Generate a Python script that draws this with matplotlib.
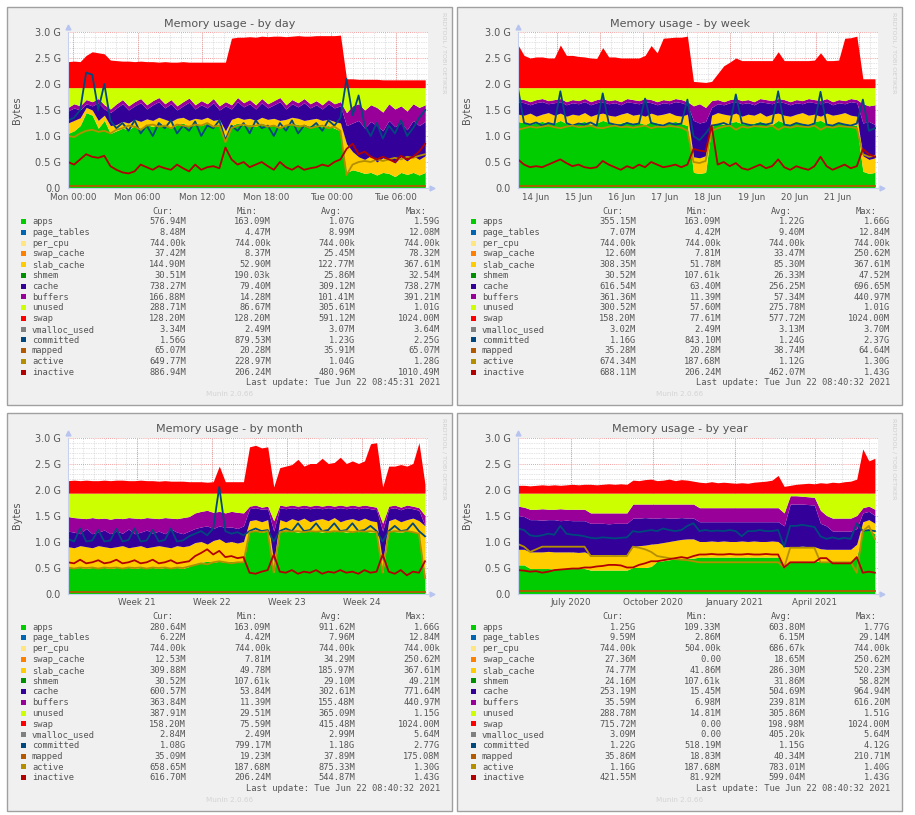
import numpy as np
import matplotlib
matplotlib.use("Agg")
import matplotlib.pyplot as plt
from matplotlib.patches import Rectangle

W, H = 915, 815
fig = plt.figure(figsize=(W / 100, H / 100), dpi=100)
fig.patch.set_facecolor("white")
bg = fig.add_axes([0, 0, 1, 1])
bg.set_xlim(0, W)
bg.set_ylim(H, 0)
bg.axis("off")

TXT = "#555555"
RAM_TOTAL = 1.93  # G, top of the "unused" band

# ---------------- data (values in G) ----------------
day_swap_top = [2.43, 2.44, 2.43, 2.55, 2.62, 2.60, 2.58, 2.46, 2.45, 2.44,
                2.44, 2.43, 2.44, 2.43, 2.43, 2.42, 2.43, 2.42, 2.42, 2.43,
                2.42, 2.42, 2.42, 2.42, 2.42, 2.42, 2.42, 2.88, 2.90, 2.90,
                2.91, 2.90, 2.92, 2.91, 2.92, 2.92, 2.91, 2.92, 2.93, 2.92,
                2.92, 2.93, 2.93, 2.93, 2.93, 2.94, 2.10, 2.10, 2.09, 2.09,
                2.09, 2.09, 2.08, 2.08, 2.08, 2.08, 2.08, 2.08, 2.08, 2.08]
day_buffers_top = [1.55, 1.62, 1.58, 1.70, 1.66, 1.72, 1.60, 1.52, 1.62, 1.70,
                   1.58, 1.66, 1.72, 1.60, 1.68, 1.74, 1.62, 1.70, 1.58, 1.66,
                   1.73, 1.60, 1.68, 1.62, 1.72, 1.58, 1.66, 1.60, 1.74, 1.64,
                   1.70, 1.60, 1.72, 1.62, 1.68, 1.74, 1.60, 1.70, 1.64, 1.72,
                   1.62, 1.68, 1.60, 1.70, 1.62, 1.66, 1.45, 1.58, 1.62, 1.50,
                   1.60, 1.55, 1.46, 1.62, 1.52, 1.58, 1.48, 1.62, 1.55, 1.60]
day_cache_top = [1.48, 1.54, 1.50, 1.62, 1.58, 1.64, 1.52, 1.45, 1.54, 1.62,
                 1.50, 1.58, 1.64, 1.52, 1.60, 1.66, 1.54, 1.62, 1.50, 1.58,
                 1.65, 1.52, 1.60, 1.54, 1.64, 1.50, 1.58, 1.52, 1.66, 1.56,
                 1.62, 1.52, 1.64, 1.54, 1.60, 1.66, 1.52, 1.62, 1.56, 1.64,
                 1.54, 1.60, 1.52, 1.62, 1.54, 1.58, 1.20, 1.25, 1.30, 1.15,
                 1.28, 1.20, 1.10, 1.30, 1.18, 1.25, 1.12, 1.30, 1.20, 1.28]
day_slab_top = [1.25, 1.30, 1.35, 1.55, 1.50, 1.30, 1.40, 1.20, 1.22, 1.28,
                1.25, 1.32, 1.28, 1.33, 1.30, 1.36, 1.32, 1.28, 1.34, 1.36,
                1.30, 1.34, 1.32, 1.36, 1.30, 1.32, 1.10, 1.32, 1.36, 1.32,
                1.34, 1.30, 1.36, 1.32, 1.34, 1.30, 1.32, 1.36, 1.34, 1.30,
                1.32, 1.34, 1.30, 1.32, 1.28, 1.25, 0.85, 0.70, 0.60, 0.55,
                0.62, 0.50, 0.58, 0.55, 0.48, 0.60, 0.52, 0.62, 0.55, 0.62]
day_apps_top = [1.05, 1.10, 1.20, 1.45, 1.40, 1.15, 1.30, 1.05, 1.10, 1.15,
                1.12, 1.20, 1.15, 1.22, 1.18, 1.25, 1.20, 1.15, 1.22, 1.25,
                1.18, 1.22, 1.20, 1.25, 1.18, 1.20, 0.95, 1.20, 1.25, 1.20,
                1.22, 1.18, 1.25, 1.20, 1.22, 1.18, 1.20, 1.25, 1.22, 1.18,
                1.20, 1.22, 1.18, 1.20, 1.15, 1.10, 0.30, 0.35, 0.32, 0.28,
                0.30, 0.25, 0.30, 0.28, 0.22, 0.30, 0.26, 0.30, 0.25, 0.30]
day_committed = [1.30, 1.35, 1.50, 2.22, 2.18, 1.50, 2.00, 1.30, 1.15, 1.25,
                 1.10, 1.30, 1.05, 1.20, 1.00, 1.25, 1.15, 1.30, 1.05, 1.20,
                 1.10, 1.28, 1.00, 1.20, 1.15, 1.30, 0.92, 1.20, 1.10, 1.25,
                 1.05, 1.30, 1.15, 1.20, 1.00, 1.25, 1.10, 1.30, 1.05, 1.20,
                 1.15, 1.25, 1.10, 1.30, 1.20, 1.35, 2.10, 1.40, 1.78, 1.20,
                 1.00, 1.25, 0.95, 1.20, 1.05, 1.30, 1.00, 1.15, 1.35, 1.50]
day_active = [1.00, 0.98, 1.05, 1.10, 1.12, 1.08, 1.10, 1.05, 1.12, 1.15,
              1.20, 1.18, 1.12, 1.20, 1.22, 1.18, 1.20, 1.15, 1.22, 1.20,
              1.18, 1.22, 1.20, 1.25, 1.18, 1.20, 0.88, 1.15, 1.20, 1.22,
              1.18, 1.20, 1.22, 1.18, 1.20, 1.15, 1.20, 1.22, 1.18, 1.20,
              1.15, 1.18, 1.20, 1.15, 1.18, 1.10, 0.25, 0.45, 0.50, 0.52,
              0.50, 0.55, 0.52, 0.55, 0.58, 0.55, 0.60, 0.58, 0.62, 0.65]
day_inactive = [0.50, 0.45, 0.55, 0.65, 0.60, 0.58, 0.62, 0.42, 0.35, 0.30,
                0.28, 0.32, 0.45, 0.40, 0.35, 0.42, 0.38, 0.35, 0.45, 0.38,
                0.32, 0.45, 0.35, 0.40, 0.42, 0.38, 0.78, 0.55, 0.45, 0.50,
                0.40, 0.45, 0.50, 0.42, 0.35, 0.50, 0.40, 0.35, 0.42, 0.35,
                0.38, 0.40, 0.45, 0.42, 0.50, 0.55, 0.75, 0.85, 0.65, 0.70,
                0.60, 0.55, 0.60, 0.55, 0.50, 0.62, 0.55, 0.60, 0.70, 0.85]

week_swap_top = [2.75, 2.55, 2.50, 2.52, 2.52, 2.50, 2.50, 2.75, 2.55, 2.55,
                 2.53, 2.52, 2.50, 2.49, 2.70, 2.52, 2.52, 2.50, 2.50, 2.50,
                 2.50, 2.55, 2.74, 2.60, 2.88, 2.89, 2.90, 2.90, 2.92, 2.05,
                 2.04, 2.03, 2.05, 2.20, 2.35, 2.42, 2.50, 2.45, 2.45, 2.45,
                 2.45, 2.45, 2.45, 2.62, 2.45, 2.45, 2.45, 2.45, 2.45, 2.46,
                 2.60, 2.45, 2.45, 2.46, 2.88, 2.89, 2.92, 2.10, 2.10, 2.10]
week_buffers_top = [1.72, 1.70, 1.66, 1.70, 1.72, 1.68, 1.70, 1.72, 1.66, 1.70,
                    1.68, 1.72, 1.66, 1.70, 1.72, 1.68, 1.70, 1.66, 1.72, 1.70,
                    1.68, 1.72, 1.70, 1.66, 1.70, 1.68, 1.72, 1.70, 1.66, 1.58,
                    1.62, 1.55, 1.68, 1.70, 1.66, 1.70, 1.72, 1.68, 1.70, 1.66,
                    1.72, 1.70, 1.68, 1.72, 1.70, 1.66, 1.70, 1.68, 1.72, 1.70,
                    1.68, 1.72, 1.66, 1.70, 1.68, 1.72, 1.70, 1.62, 1.58, 1.60]
week_cache_top = [1.66, 1.64, 1.60, 1.64, 1.66, 1.62, 1.64, 1.66, 1.60, 1.64,
                  1.62, 1.66, 1.60, 1.64, 1.66, 1.62, 1.64, 1.60, 1.66, 1.64,
                  1.62, 1.66, 1.64, 1.60, 1.64, 1.62, 1.66, 1.64, 1.60, 1.30,
                  1.25, 1.28, 1.55, 1.62, 1.60, 1.64, 1.66, 1.62, 1.64, 1.60,
                  1.66, 1.64, 1.62, 1.66, 1.64, 1.60, 1.64, 1.62, 1.66, 1.64,
                  1.62, 1.66, 1.60, 1.64, 1.62, 1.66, 1.64, 1.25, 1.28, 1.22]
week_slab_top = [1.42, 1.40, 1.44, 1.38, 1.42, 1.45, 1.40, 1.44, 1.38, 1.42,
                 1.40, 1.45, 1.38, 1.42, 1.44, 1.40, 1.38, 1.42, 1.45, 1.40,
                 1.42, 1.38, 1.44, 1.40, 1.42, 1.45, 1.40, 1.38, 1.42, 0.60,
                 0.58, 0.62, 1.40, 1.45, 1.42, 1.40, 1.44, 1.38, 1.42, 1.40,
                 1.45, 1.38, 1.42, 1.44, 1.40, 1.38, 1.42, 1.45, 1.40, 1.42,
                 1.38, 1.44, 1.40, 1.42, 1.45, 1.40, 1.38, 0.62, 0.55, 0.58]
week_apps_top = [1.28, 1.25, 1.22, 1.26, 1.28, 1.24, 1.25, 1.30, 1.24, 1.22,
                 1.26, 1.28, 1.22, 1.25, 1.30, 1.26, 1.22, 1.25, 1.28, 1.24,
                 1.26, 1.22, 1.28, 1.25, 1.22, 1.26, 1.28, 1.24, 1.20, 0.30,
                 0.28, 0.30, 1.18, 1.25, 1.22, 1.26, 1.28, 1.24, 1.22, 1.25,
                 1.28, 1.24, 1.22, 1.30, 1.25, 1.22, 1.26, 1.24, 1.22, 1.28,
                 1.30, 1.24, 1.22, 1.26, 1.24, 1.22, 1.20, 0.32, 0.28, 0.30]
week_committed = [1.92, 1.25, 1.22, 1.26, 1.20, 1.25, 1.22, 1.86, 1.25, 1.20,
                  1.24, 1.22, 1.26, 1.20, 1.82, 1.25, 1.22, 1.20, 1.25, 1.22,
                  1.24, 1.72, 1.25, 1.22, 1.20, 1.25, 1.22, 1.24, 1.70, 1.00,
                  0.92, 1.05, 1.20, 1.22, 1.25, 1.20, 1.80, 1.25, 1.22, 1.20,
                  1.24, 1.22, 1.25, 1.86, 1.22, 1.20, 1.25, 1.22, 1.20, 1.24,
                  1.85, 1.22, 1.20, 1.25, 1.22, 1.20, 1.24, 1.70, 1.10, 1.15]
week_active = [1.12, 1.15, 1.18, 1.16, 1.18, 1.20, 1.17, 1.15, 1.18, 1.20,
               1.17, 1.18, 1.20, 1.16, 1.15, 1.18, 1.20, 1.17, 1.18, 1.16,
               1.18, 1.20, 1.15, 1.18, 1.17, 1.19, 1.18, 1.16, 1.10, 0.50,
               0.48, 0.52, 1.10, 1.15, 1.18, 1.20, 1.12, 1.18, 1.16, 1.19,
               1.18, 1.17, 1.20, 1.12, 1.18, 1.16, 1.19, 1.18, 1.17, 1.20,
               1.12, 1.18, 1.16, 1.19, 1.18, 1.17, 1.15, 0.65, 0.60, 0.62]
week_inactive = [0.55, 0.45, 0.40, 0.42, 0.40, 0.45, 0.50, 0.55, 0.48, 0.42,
                 0.45, 0.40, 0.38, 0.40, 0.52, 0.45, 0.40, 0.35, 0.42, 0.38,
                 0.45, 0.40, 0.50, 0.45, 0.40, 0.42, 0.45, 0.40, 0.45, 0.75,
                 0.72, 0.70, 1.20, 0.45, 0.50, 0.42, 0.48, 0.38, 0.35, 0.40,
                 0.45, 0.38, 0.42, 0.55, 0.40, 0.35, 0.42, 0.38, 0.35, 0.42,
                 0.60, 0.42, 0.35, 0.40, 0.45, 0.38, 0.42, 0.75, 0.65, 0.60]

month_swap_top = [2.17, 2.18, 2.17, 2.18, 2.17, 2.17, 2.18, 2.17, 2.18, 2.18,
                  2.17, 2.17, 2.18, 2.17, 2.17, 2.16, 2.17, 2.16, 2.16, 2.16,
                  2.15, 2.15, 2.15, 2.14, 2.15, 2.45, 2.15, 2.15, 2.15, 2.15,
                  2.82, 2.85, 2.80, 2.82, 2.05, 2.42, 2.45, 2.48, 2.58, 2.45,
                  2.50, 2.50, 2.60, 2.50, 2.52, 2.62, 2.50, 2.55, 2.50, 2.55,
                  2.88, 2.90, 2.05, 2.45, 2.45, 2.48, 2.45, 2.50, 2.90, 2.10]
month_buffers_top = [1.48, 1.46, 1.45, 1.44, 1.46, 1.44, 1.45, 1.43, 1.45, 1.44,
                     1.46, 1.45, 1.44, 1.46, 1.45, 1.44, 1.46, 1.45, 1.44, 1.46,
                     1.48, 1.55, 1.58, 1.60, 1.56, 1.58, 1.55, 1.58, 1.56, 1.55,
                     1.68, 1.70, 1.66, 1.68, 1.40, 1.70, 1.68, 1.70, 1.68, 1.70,
                     1.68, 1.70, 1.68, 1.70, 1.68, 1.70, 1.68, 1.70, 1.68, 1.70,
                     1.68, 1.66, 1.35, 1.68, 1.70, 1.66, 1.70, 1.68, 1.65, 1.50]
month_cache_top = [1.20, 1.18, 1.15, 1.25, 1.15, 1.18, 1.22, 1.15, 1.20, 1.16,
                   1.24, 1.15, 1.18, 1.22, 1.16, 1.20, 1.15, 1.24, 1.18, 1.15,
                   1.20, 1.25, 1.28, 1.30, 1.25, 1.30, 1.27, 1.28, 1.25, 1.30,
                   1.63, 1.65, 1.62, 1.63, 1.20, 1.65, 1.63, 1.65, 1.63, 1.65,
                   1.63, 1.65, 1.63, 1.65, 1.63, 1.65, 1.63, 1.65, 1.63, 1.65,
                   1.63, 1.61, 1.20, 1.63, 1.65, 1.61, 1.65, 1.63, 1.60, 1.30]
month_slab_top = [0.90, 0.88, 0.92, 0.90, 0.88, 0.92, 0.90, 0.88, 0.90, 0.92,
                  0.88, 0.90, 0.92, 0.88, 0.90, 0.92, 0.90, 0.88, 0.92, 0.90,
                  0.92, 0.98, 1.00, 0.95, 1.02, 1.05, 0.98, 1.00, 0.97, 1.00,
                  1.40, 1.42, 1.38, 1.42, 0.60, 1.42, 1.38, 1.44, 1.40, 1.45,
                  1.38, 1.42, 1.44, 1.40, 1.46, 1.38, 1.42, 1.44, 1.40, 1.45,
                  1.40, 1.38, 0.60, 1.40, 1.44, 1.38, 1.42, 1.45, 1.40, 1.30]
month_apps_top = [0.50, 0.49, 0.50, 0.48, 0.50, 0.49, 0.50, 0.48, 0.50, 0.49,
                  0.50, 0.48, 0.50, 0.49, 0.50, 0.48, 0.50, 0.49, 0.50, 0.48,
                  0.52, 0.58, 0.60, 0.62, 0.60, 0.62, 0.60, 0.62, 0.60, 0.61,
                  1.20, 1.20, 1.18, 1.20, 0.40, 1.20, 1.19, 1.20, 1.18, 1.20,
                  1.19, 1.20, 1.18, 1.20, 1.19, 1.20, 1.18, 1.20, 1.19, 1.20,
                  1.18, 1.18, 0.40, 1.20, 1.19, 1.18, 1.20, 1.20, 1.15, 0.35]
month_committed = [1.05, 1.00, 1.25, 1.00, 1.02, 1.22, 1.00, 1.02, 1.24, 1.00,
                   1.03, 1.25, 1.00, 1.02, 1.22, 1.00, 1.03, 1.25, 1.00, 1.02,
                   1.10, 1.15, 1.20, 1.12, 1.25, 2.05, 1.20, 1.15, 1.18, 1.12,
                   1.20, 1.25, 1.20, 1.22, 1.00, 1.20, 1.25, 1.20, 1.35, 1.20,
                   1.22, 1.35, 1.20, 1.22, 1.35, 1.20, 1.22, 1.35, 1.20, 1.22,
                   1.30, 1.20, 1.00, 1.20, 1.30, 1.20, 1.22, 1.35, 1.20, 1.10]
month_active = [0.50, 0.48, 0.50, 0.49, 0.50, 0.48, 0.50, 0.49, 0.50, 0.48,
                0.50, 0.49, 0.50, 0.48, 0.50, 0.49, 0.50, 0.48, 0.50, 0.49,
                0.52, 0.55, 0.58, 0.56, 0.60, 0.62, 0.60, 0.58, 0.60, 0.60,
                1.18, 1.20, 1.18, 1.20, 0.40, 1.18, 1.20, 1.19, 1.20, 1.18,
                1.20, 1.19, 1.20, 1.18, 1.20, 1.19, 1.20, 1.18, 1.20, 1.19,
                1.20, 1.18, 0.40, 1.18, 1.20, 1.19, 1.20, 1.18, 1.15, 0.30]
month_inactive = [0.60, 0.58, 0.65, 0.58, 0.60, 0.64, 0.58, 0.60, 0.65, 0.58,
                  0.60, 0.64, 0.58, 0.60, 0.65, 0.58, 0.60, 0.64, 0.58, 0.60,
                  0.62, 0.72, 0.78, 0.85, 0.75, 0.82, 0.70, 0.72, 0.68, 0.70,
                  0.40, 0.38, 0.42, 0.45, 0.75, 0.42, 0.40, 0.45, 0.38, 0.42,
                  0.40, 0.45, 0.38, 0.42, 0.40, 0.45, 0.40, 0.42, 0.38, 0.45,
                  0.40, 0.42, 0.75, 0.42, 0.38, 0.45, 0.35, 0.42, 0.40, 0.62]

year_swap_top = [2.08, 2.08, 2.07, 2.08, 2.09, 2.08, 2.09, 2.08, 2.09, 2.10,
                 2.09, 2.10, 2.10, 2.09, 2.10, 2.11, 2.10, 2.11, 2.10, 2.18,
                 2.17, 2.19, 2.20, 2.17, 2.18, 2.20, 2.17, 2.19, 2.18, 2.16,
                 2.14, 2.13, 2.15, 2.13, 2.14, 2.13, 2.12, 2.13, 2.12, 2.14,
                 2.15, 2.16, 2.18, 2.27, 2.06, 2.08, 2.10, 2.11, 2.12, 2.11,
                 2.13, 2.12, 2.14, 2.13, 2.15, 2.16, 2.20, 2.78, 2.55, 2.60]
year_buffers_top = [1.68, 1.66, 1.62, 1.62, 1.63, 1.62, 1.62, 1.63, 1.62, 1.62,
                    1.62, 1.62, 1.55, 1.55, 1.55, 1.55, 1.55, 1.55, 1.55, 1.72,
                    1.72, 1.72, 1.72, 1.72, 1.72, 1.72, 1.72, 1.72, 1.72, 1.72,
                    1.65, 1.65, 1.65, 1.65, 1.65, 1.65, 1.65, 1.65, 1.65, 1.65,
                    1.65, 1.65, 1.65, 1.65, 1.55, 1.88, 1.88, 1.87, 1.86, 1.85,
                    1.60, 1.50, 1.45, 1.45, 1.45, 1.45, 1.50, 1.65, 1.68, 1.62]
year_cache_top = [1.50, 1.48, 1.42, 1.42, 1.41, 1.42, 1.42, 1.40, 1.41, 1.40,
                  1.40, 1.40, 1.35, 1.35, 1.35, 1.34, 1.35, 1.35, 1.35, 1.45,
                  1.45, 1.46, 1.45, 1.45, 1.46, 1.45, 1.45, 1.46, 1.45, 1.45,
                  1.38, 1.38, 1.38, 1.38, 1.38, 1.38, 1.38, 1.38, 1.38, 1.38,
                  1.38, 1.38, 1.38, 1.38, 1.30, 1.72, 1.72, 1.72, 1.71, 1.70,
                  1.35, 1.30, 1.20, 1.20, 1.20, 1.20, 1.25, 1.55, 1.58, 1.50]
year_slab_top = [0.85, 0.85, 0.80, 0.80, 0.80, 0.81, 0.80, 0.80, 0.80, 0.80,
                 0.79, 0.80, 0.75, 0.75, 0.75, 0.75, 0.74, 0.75, 0.75, 0.90,
                 0.92, 0.93, 0.95, 0.96, 0.98, 1.00, 1.02, 1.04, 1.05, 1.05,
                 1.00, 1.00, 1.01, 1.00, 1.01, 1.00, 1.00, 1.01, 1.00, 1.01,
                 1.00, 1.00, 1.01, 1.00, 0.90, 0.90, 0.90, 0.91, 0.90, 0.90,
                 0.86, 0.85, 0.85, 0.85, 0.85, 0.85, 0.95, 1.38, 1.42, 1.35]
year_apps_top = [0.55, 0.55, 0.48, 0.48, 0.48, 0.48, 0.47, 0.48, 0.48, 0.48,
                 0.48, 0.48, 0.45, 0.45, 0.45, 0.45, 0.45, 0.45, 0.45, 0.50,
                 0.50, 0.50, 0.52, 0.62, 0.63, 0.65, 0.66, 0.67, 0.68, 0.68,
                 0.70, 0.70, 0.70, 0.70, 0.70, 0.70, 0.70, 0.70, 0.70, 0.70,
                 0.70, 0.70, 0.70, 0.70, 0.50, 0.62, 0.62, 0.62, 0.62, 0.62,
                 0.62, 0.62, 0.62, 0.62, 0.62, 0.62, 0.70, 1.20, 1.22, 1.15]
year_committed = [1.25, 1.22, 1.12, 1.10, 1.12, 1.15, 1.13, 1.30, 1.15, 1.13,
                  1.12, 1.10, 1.07, 1.06, 1.08, 1.07, 1.06, 1.07, 1.08, 1.20,
                  1.18, 1.20, 1.22, 1.20, 1.25, 1.22, 1.20, 1.22, 1.30, 1.35,
                  1.20, 1.22, 1.20, 1.21, 1.20, 1.22, 1.20, 1.10, 1.20, 1.20,
                  1.22, 1.20, 1.20, 1.22, 0.90, 1.30, 1.30, 1.32, 1.30, 1.28,
                  1.10, 1.05, 1.08, 1.05, 1.07, 1.05, 1.35, 1.20, 1.22, 1.20]
year_active = [0.95, 0.90, 0.80, 0.85, 0.90, 0.90, 0.90, 0.90, 0.90, 0.90,
               0.90, 0.90, 0.72, 0.72, 0.72, 0.72, 0.72, 0.72, 0.72, 0.90,
               0.88, 0.85, 0.80, 0.72, 0.70, 0.68, 0.66, 0.65, 0.64, 0.62,
               0.60, 0.60, 0.60, 0.60, 0.60, 0.60, 0.60, 0.60, 0.60, 0.60,
               0.60, 0.60, 0.60, 0.60, 0.50, 0.88, 0.88, 0.88, 0.88, 0.88,
               0.60, 0.60, 0.60, 0.60, 0.60, 0.60, 0.40, 1.20, 1.30, 1.05]
year_inactive = [0.45, 0.44, 0.42, 0.43, 0.40, 0.42, 0.45, 0.46, 0.47, 0.48,
                 0.48, 0.50, 0.50, 0.52, 0.53, 0.55, 0.55, 0.54, 0.50, 0.50,
                 0.55, 0.58, 0.62, 0.62, 0.64, 0.66, 0.68, 0.70, 0.68, 0.72,
                 0.75, 0.75, 0.76, 0.75, 0.75, 0.76, 0.75, 0.75, 0.76, 0.75,
                 0.75, 0.76, 0.75, 0.75, 0.50, 0.60, 0.60, 0.60, 0.60, 0.60,
                 0.68, 0.68, 0.58, 0.58, 0.58, 0.58, 0.70, 0.40, 0.42, 0.40]

mapped_level = {"day": 0.036, "week": 0.039, "month": 0.038, "year": 0.040}

# ---------------- legend tables ----------------
legend_names = ["apps", "page_tables", "per_cpu", "swap_cache", "slab_cache", "shmem",
                "cache", "buffers", "unused", "swap", "vmalloc_used", "committed",
                "mapped", "active", "inactive"]
legend_colors = ["#00CC00", "#0066B3", "#FFE680", "#FF8000", "#FFCC00", "#008F00",
                 "#330099", "#990099", "#CCFF00", "#FF0000", "#808080", "#00487D",
                 "#B35A00", "#B38F00", "#B30000"]

day_cur = ["576.94M", "8.48M", "744.00k", "37.42M", "144.90M", "30.51M", "738.27M", "166.88M",
           "288.71M", "128.20M", "3.34M", "1.56G", "65.07M", "649.77M", "886.94M"]
day_min = ["163.09M", "4.47M", "744.00k", "8.37M", "52.90M", "190.03k", "79.40M", "14.28M",
           "86.67M", "128.20M", "2.49M", "879.53M", "20.28M", "228.97M", "206.24M"]
day_avg = ["1.07G", "8.99M", "744.00k", "25.45M", "122.77M", "25.86M", "309.12M", "101.41M",
           "305.61M", "591.12M", "3.07M", "1.23G", "35.91M", "1.04G", "480.96M"]
day_max = ["1.59G", "12.08M", "744.00k", "78.32M", "367.61M", "32.54M", "738.27M", "391.21M",
           "1.01G", "1024.00M", "3.64M", "2.25G", "65.07M", "1.28G", "1010.49M"]

week_cur = ["355.15M", "7.07M", "744.00k", "12.60M", "308.35M", "30.52M", "616.54M", "361.36M",
            "300.52M", "158.20M", "3.02M", "1.16G", "35.28M", "674.34M", "688.11M"]
week_min = ["163.09M", "4.42M", "744.00k", "7.81M", "51.78M", "107.61k", "63.40M", "11.39M",
            "57.60M", "77.61M", "2.49M", "843.10M", "20.28M", "187.68M", "206.24M"]
week_avg = ["1.22G", "9.40M", "744.00k", "33.47M", "85.30M", "26.33M", "256.25M", "57.34M",
            "275.78M", "577.72M", "3.13M", "1.24G", "38.74M", "1.12G", "462.07M"]
week_max = ["1.66G", "12.84M", "744.00k", "250.62M", "367.61M", "47.52M", "696.65M", "440.97M",
            "1.01G", "1024.00M", "3.70M", "2.37G", "64.64M", "1.30G", "1.43G"]

month_cur = ["280.64M", "6.22M", "744.00k", "12.53M", "309.88M", "30.52M", "600.57M", "363.84M",
             "387.91M", "158.20M", "2.84M", "1.08G", "35.09M", "658.65M", "616.70M"]
month_min = ["163.09M", "4.42M", "744.00k", "7.81M", "49.78M", "107.61k", "53.84M", "11.39M",
             "29.51M", "75.59M", "2.49M", "799.17M", "19.23M", "187.68M", "206.24M"]
month_avg = ["911.62M", "7.96M", "744.00k", "34.29M", "185.97M", "29.10M", "302.61M", "155.48M",
             "365.09M", "415.48M", "2.99M", "1.18G", "37.89M", "875.33M", "544.87M"]
month_max = ["1.66G", "12.84M", "744.00k", "250.62M", "367.61M", "49.21M", "771.64M", "440.97M",
             "1.15G", "1024.00M", "5.64M", "2.77G", "175.08M", "1.30G", "1.43G"]

year_cur = ["1.25G", "9.59M", "744.00k", "27.36M", "74.77M", "24.16M", "253.19M", "35.59M",
            "288.78M", "715.72M", "3.09M", "1.22G", "35.86M", "1.16G", "421.55M"]
year_min = ["109.33M", "2.86M", "504.00k", "0.00", "41.86M", "107.61k", "15.45M", "6.98M",
            "14.81M", "0.00", "0.00", "518.19M", "18.83M", "187.68M", "81.92M"]
year_avg = ["603.80M", "6.15M", "686.67k", "18.65M", "286.30M", "31.86M", "504.69M", "239.81M",
            "305.86M", "198.98M", "405.20k", "1.15G", "40.34M", "783.01M", "599.04M"]
year_max = ["1.77G", "29.14M", "744.00k", "250.62M", "520.23M", "58.82M", "964.94M", "616.20M",
            "1.51G", "1024.00M", "5.64M", "4.12G", "210.71M", "1.40G", "1.43G"]

# ---------------- x axes ----------------
day_ticks = [0, 6, 12, 18, 24, 30]
day_labels = ["Mon 00:00", "Mon 06:00", "Mon 12:00", "Mon 18:00", "Tue 00:00", "Tue 06:00"]
week_ticks = [0.5, 1.5, 2.5, 3.5, 4.5, 5.5, 6.5, 7.5]
week_labels = ["14 Jun", "15 Jun", "16 Jun", "17 Jun", "18 Jun", "19 Jun", "20 Jun", "21 Jun"]
month_ticks = [6.44, 13.44, 20.44, 27.44]
month_labels = ["Week 21", "Week 22", "Week 23", "Week 24"]
year_ticks = [59.6, 151.6, 243.6, 333.6]
year_labels = ["July 2020", "October 2020", "January 2021", "April 2021"]

panels = [
    dict(key="day", title="Memory usage - by day", ox=0, oy=0,
         x=np.linspace(-0.465, 32.74, len(day_swap_top)), xlim=(-0.465, 33.0),
         ticks=day_ticks, labels=day_labels,
         major=np.arange(0, 31, 6), minor=np.arange(0, 33, 1),
         apps=day_apps_top, slab=day_slab_top, cache=day_cache_top, buf=day_buffers_top,
         swap=day_swap_top, com=day_committed, act=day_active, ina=day_inactive,
         cur=day_cur, mn=day_min, avg=day_avg, mx=day_max,
         update="Last update: Tue Jun 22 08:45:31 2021"),
    dict(key="week", title="Memory usage - by week", ox=450, oy=0,
         x=np.linspace(0.1, 8.36, len(week_swap_top)), xlim=(0.1, 8.43),
         ticks=week_ticks, labels=week_labels,
         major=np.arange(1, 9, 1), minor=np.arange(0.25, 8.43, 0.25),
         apps=week_apps_top, slab=week_slab_top, cache=week_cache_top, buf=week_buffers_top,
         swap=week_swap_top, com=week_committed, act=week_active, ina=week_inactive,
         cur=week_cur, mn=week_min, avg=week_avg, mx=week_max,
         update="Last update: Tue Jun 22 08:40:32 2021"),
    dict(key="month", title="Memory usage - by month", ox=0, oy=405.5,
         x=np.linspace(0, 33.32, len(month_swap_top)), xlim=(0, 33.6),
         ticks=month_ticks, labels=month_labels,
         major=np.array(month_ticks), minor=np.arange(0.44, 33.6, 1),
         apps=month_apps_top, slab=month_slab_top, cache=month_cache_top, buf=month_buffers_top,
         swap=month_swap_top, com=month_committed, act=month_active, ina=month_inactive,
         cur=month_cur, mn=month_min, avg=month_avg, mx=month_max,
         update="Last update: Tue Jun 22 08:40:32 2021"),
    dict(key="year", title="Memory usage - by year", ox=450, oy=405.5,
         x=np.linspace(0, 401, len(year_swap_top)), xlim=(0, 404.5),
         ticks=year_ticks, labels=year_labels,
         major=np.array(year_ticks),
         minor=np.array([29.6, 59.6, 90.6, 121.6, 151.6, 182.6, 212.6, 243.6,
                         274.6, 302.6, 333.6, 363.6, 394.6]),
         apps=year_apps_top, slab=year_slab_top, cache=year_cache_top, buf=year_buffers_top,
         swap=year_swap_top, com=year_committed, act=year_active, ina=year_inactive,
         cur=year_cur, mn=year_min, avg=year_avg, mx=year_max,
         update="Last update: Tue Jun 22 08:40:32 2021"),
]


def rect(l, t, r, b):
    return [l / W, 1 - b / H, (r - l) / W, (b - t) / H]


for p in panels:
    ox, oy = p["ox"], p["oy"]
    # panel frame
    bg.add_patch(Rectangle((7 + ox, 7 + oy), 445, 398, facecolor="#F0F0F0",
                           edgecolor="#A0A0A0", lw=1.0))
    bg.text(230 + ox, 24 + oy, p["title"], ha="center", va="center", fontsize=8,
            color=TXT, family="DejaVu Sans")
    bg.text(17 + ox, 110 + oy, "Bytes", ha="center", va="center", rotation=90,
            fontsize=7, color=TXT)
    bg.text(444.5 + ox, 12 + oy, "RRDTOOL / TOBI OETIKER", ha="center", va="top",
            rotation=-90, fontsize=4.6, color="#CFCFCF")
    bg.text(230 + ox, 394 + oy, "Munin 2.0.66", ha="center", va="center",
            fontsize=5.2, color="#D4D4D4")

    # legend
    cols = [186, 271, 355, 440]
    for c, h in zip(cols, ["Cur:", "Min:", "Avg:", "Max:"]):
        bg.text(c - 13 + ox, 211 + oy, h, ha="right", va="center", fontsize=6.3,
                family="DejaVu Sans Mono", color=TXT)
    for k, (name, col) in enumerate(zip(legend_names, legend_colors)):
        y = 221.7 + k * 10.76 + oy
        bg.add_patch(Rectangle((20.5 + ox, y - 2.6), 5, 5, facecolor=col, edgecolor="none"))
        bg.text(32 + ox, y, name, ha="left", va="center", fontsize=6.3,
                family="DejaVu Sans Mono", color=TXT)
        for c, vals in zip(cols, [p["cur"], p["mn"], p["avg"], p["mx"]]):
            bg.text(c + ox, y, vals[k], ha="right", va="center", fontsize=6.3,
                    family="DejaVu Sans Mono", color=TXT)
    bg.text(440 + ox, 382.7 + oy, p["update"], ha="right", va="center", fontsize=6.3,
            family="DejaVu Sans Mono", color=TXT)

    # plot area
    ax = fig.add_axes(rect(68 + ox, 32 + oy, 428 + ox, 188 + oy))
    ax.set_facecolor("white")
    x = p["x"]
    ax.set_xlim(*p["xlim"])
    ax.set_ylim(0, 3.0)

    for yv in np.arange(0.1, 3.01, 0.1):
        if abs(yv * 2 - round(yv * 2)) > 1e-6:
            ax.axhline(yv, color="#C8C8C8", lw=0.5, dashes=(1, 1.5), zorder=0.5)
    for xv in p["minor"]:
        ax.axvline(xv, color="#C8C8C8", lw=0.5, dashes=(1, 1.5), zorder=0.5)
    for yv in [0.5, 1.0, 1.5, 2.0, 2.5, 3.0]:
        ax.axhline(yv, color="#F08080", lw=0.6, dashes=(1, 1.5), zorder=0.6)
    for xv in p["major"]:
        ax.axvline(xv, color="#F08080", lw=0.6, dashes=(1, 1.5), zorder=0.6)

    apps = np.array(p["apps"])
    slab = np.array(p["slab"])
    cache = np.array(p["cache"])
    buf = np.array(p["buf"])
    swap = np.array(p["swap"])
    ax.fill_between(x, 0, apps, color="#00CC00", lw=0, zorder=1)
    ax.fill_between(x, apps, slab, color="#FFCC00", lw=0, zorder=1)
    ax.fill_between(x, slab, cache, color="#330099", lw=0, zorder=1)
    ax.fill_between(x, cache, buf, color="#990099", lw=0, zorder=1)
    ax.fill_between(x, buf, RAM_TOTAL, color="#CCFF00", lw=0, zorder=1)
    ax.fill_between(x, RAM_TOTAL, swap, color="#FF0000", lw=0, zorder=1)

    m = mapped_level[p["key"]]
    ax.plot([x[0], x[-1]], [m, m], color="#B35A00", lw=1.3, zorder=2)
    ax.plot(x, p["com"], color="#00487D", lw=1.3, zorder=2)
    ax.plot(x, p["act"], color="#B38F00", lw=1.3, zorder=2)
    ax.plot(x, p["ina"], color="#B30000", lw=1.3, zorder=2)

    ax.set_yticks([0, 0.5, 1.0, 1.5, 2.0, 2.5, 3.0])
    ax.set_yticklabels(["0.0", "0.5 G", "1.0 G", "1.5 G", "2.0 G", "2.5 G", "3.0 G"])
    ax.set_xticks(p["ticks"])
    ax.set_xticklabels(p["labels"])
    ax.tick_params(axis="y", length=0, labelsize=7, colors=TXT, pad=5)
    ax.tick_params(axis="x", length=0, labelsize=6.3, colors=TXT, pad=3.5)
    for s in ["top", "right"]:
        ax.spines[s].set_visible(False)
    for s in ["left", "bottom"]:
        ax.spines[s].set_color("#C8D0F0")
        ax.spines[s].set_linewidth(0.8)
    ax.plot([0], [1.03], marker="^", ms=3.5, color="#B8C4F0", transform=ax.transAxes,
            clip_on=False)
    ax.plot([1.01], [0], marker=">", ms=3.5, color="#B8C4F0", transform=ax.transAxes,
            clip_on=False)

fig.savefig("out.png", dpi=100, facecolor="white")
